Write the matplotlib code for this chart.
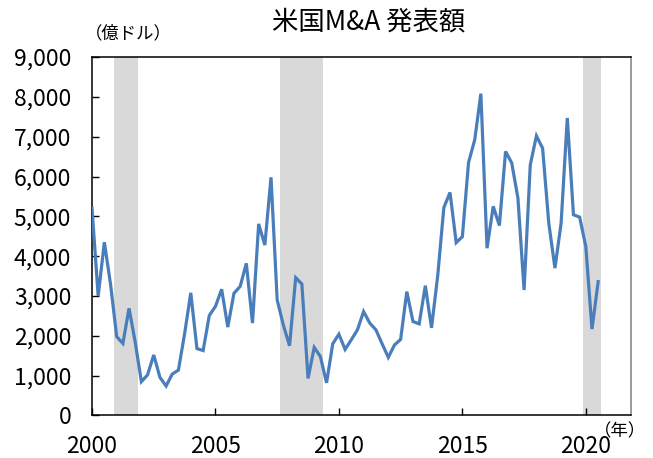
import numpy as np
import matplotlib.pyplot as plt
from matplotlib.ticker import FuncFormatter

plt.rcParams['font.family'] = ['Noto Sans CJK JP', 'DejaVu Sans']

# quarterly announced M&A value, 2000Q1 - 2020Q3 (100 million USD)
start_year = 2000
values = [
    5200, 3000, 4350, 3300, 1980, 1810, 2690, 1840,
    850, 1020, 1520, 960, 740, 1040, 1140, 2050,
    3080, 1680, 1630, 2510, 2740, 3170, 2220, 3070,
    3240, 3820, 2320, 4810, 4280, 5980, 2900, 2270,
    1750, 3460, 3300, 930, 1710, 1480, 820, 1800,
    2040, 1660, 1900, 2150, 2610, 2320, 2150, 1800,
    1460, 1770, 1910, 3110, 2360, 2300, 3260, 2200,
    3500, 5220, 5600, 4340, 4490, 6350, 6920, 8080,
    4200, 5250, 4770, 6630, 6340, 5460, 3150, 6290,
    7020, 6710, 4830, 3700, 4830, 7470, 5040, 4980,
    4240, 2170, 3360,
]
# recession periods (first and last quarter)
recessions = [(2001.0, 2001.75), (2007.75, 2009.25), (2020.0, 2020.5)]
year_ticks = [2000, 2005, 2010, 2015, 2020]

x = start_year + np.arange(len(values)) * 0.25

fig = plt.figure(figsize=(6.53, 4.58), dpi=100)
ax = fig.add_axes([0.1409, 0.0928, 0.8254, 0.7827])

for r0, r1 in recessions:
    ax.axvspan(r0 - 0.125, r1 + 0.125, color='#d9d9d9', lw=0, zorder=1)

ax.plot(x, values, color='#4a7ebb', lw=2.3, zorder=3, solid_joinstyle='miter')

ax.set_xlim(2000, 2021.83)
ax.set_ylim(0, 9000)
ax.set_xticks(year_ticks)
ax.set_yticks(np.arange(0, 9001, 1000))
ax.yaxis.set_major_formatter(FuncFormatter(lambda v, p: f'{int(v):,}'))
ax.tick_params(axis='both', direction='in', length=5, width=1, labelsize=16.5, colors='black')
ax.tick_params(axis='y', pad=15)
ax.tick_params(axis='x', pad=14)

for s in ['left', 'bottom', 'top']:
    ax.spines[s].set_color('black')
    ax.spines[s].set_linewidth(1.1)
ax.spines['right'].set_color('#808080')
ax.spines['right'].set_linewidth(1.1)

fig.text(0.565, 0.952, '米国M&A 発表額', ha='center', va='center', fontsize=19)
fig.text(0.197, 0.928, '（億ドル）', ha='center', va='center', fontsize=12.5)
fig.text(0.95, 0.058, '（年）', ha='center', va='center', fontsize=12.5)

fig.savefig('out.png', dpi=100)
